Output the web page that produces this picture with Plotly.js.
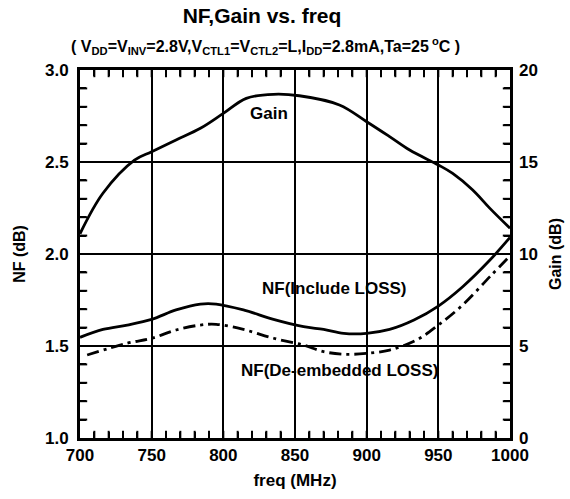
<!DOCTYPE html>
<html>
<head>
<meta charset="utf-8">
<script src="https://cdn.plot.ly/plotly-3.0.1.min.js"></script>
<style>html,body{margin:0;padding:0;background:#fff;}#chart{width:570px;height:499px;}</style>
</head>
<body>
<div id="chart"></div>
<script>
// Gain curve (right axis, dB)
const gainFreq = [700, 716, 738, 750, 767, 784, 800, 816, 835, 853, 881, 900, 916, 930, 950, 960, 974, 986, 1000];
const gainDb   = [11.1, 13.3, 15.1, 15.56, 16.2, 16.83, 17.64, 18.46, 18.68, 18.6, 18.1, 17.19, 16.38, 15.65, 14.84, 14.38, 13.48, 12.48, 11.4];

// NF (Include LOSS), left axis dB
const nfIncFreq = [700, 716, 733, 750, 767, 784, 795, 814, 835, 856, 870, 884, 900, 916, 933, 950, 967, 986, 1000];
const nfIncDb   = [1.547, 1.59, 1.614, 1.645, 1.696, 1.728, 1.728, 1.696, 1.645, 1.605, 1.59, 1.569, 1.569, 1.59, 1.641, 1.717, 1.822, 1.967, 2.09];

// NF (De-embedded LOSS), left axis dB
const nfDeFreq = [705, 733, 750, 767, 784, 795, 814, 835, 856, 870, 886, 900, 916, 935, 950, 967, 986, 1000];
const nfDeDb   = [1.451, 1.515, 1.542, 1.587, 1.614, 1.618, 1.59, 1.542, 1.505, 1.469, 1.455, 1.46, 1.478, 1.533, 1.614, 1.723, 1.877, 1.99];

// Axis ranges and tick spacing
const xRange = [700, 1000];   // major every 50 MHz, minor every 10 MHz
const nfRange = [1.0, 3.0];   // major every 0.5 dB, minor every 0.1 dB
const gainRange = [0, 20];    // major every 5 dB
const xMinorStep = 10;
const nfMinorStep = 0.1;

const FONT = '"Liberation Sans", Arial, sans-serif';
const M = {l: 80, r: 60, t: 70, b: 61};
const W = 570, H = 499;
const plotW = W - M.l - M.r, plotH = H - M.t - M.b;
const TL = 6; // minor tick length, px
const halfX = (TL / 2) / plotW * (xRange[1] - xRange[0]);
const halfY = (TL / 2) / plotH * (nfRange[1] - nfRange[0]);

// inside minor tick marks drawn as line-shaped markers just inside each edge
const vtX = [], vtY = [], htX = [], htY = [];
for (let i = 1; xRange[0] + i * xMinorStep < xRange[1] - 1e-9; i++) {
  const v = xRange[0] + i * xMinorStep;
  vtX.push(v, v);
  vtY.push(nfRange[0] + halfY, nfRange[1] - halfY);
}
const nSteps = Math.round((nfRange[1] - nfRange[0]) / nfMinorStep);
for (let i = 1; i < nSteps; i++) {
  const v = nfRange[0] + i * nfMinorStep;
  htX.push(xRange[0] + halfX, xRange[1] - halfX);
  htY.push(v, v);
}

const traces = [
  {x: vtX, y: vtY, mode: 'markers', marker: {symbol: 'line-ns', size: TL, color: '#000', line: {color: '#000', width: 2}},
   cliponaxis: false, showlegend: false, hoverinfo: 'skip'},
  {x: htX, y: htY, mode: 'markers', marker: {symbol: 'line-ew', size: TL, color: '#000', line: {color: '#000', width: 2}},
   cliponaxis: false, showlegend: false, hoverinfo: 'skip'},
  {x: gainFreq, y: gainDb, yaxis: 'y2', mode: 'lines', line: {color: '#000', width: 2.8, shape: 'spline', smoothing: 1}, showlegend: false, hoverinfo: 'skip'},
  {x: nfIncFreq, y: nfIncDb, mode: 'lines', line: {color: '#000', width: 2.8, shape: 'spline', smoothing: 1}, showlegend: false, hoverinfo: 'skip'},
  {x: nfDeFreq, y: nfDeDb, mode: 'lines', line: {color: '#000', width: 2.8, shape: 'spline', smoothing: 1, dash: '12px,5px,3px,5px'}, showlegend: false, hoverinfo: 'skip'}
];

const tickFont = {family: FONT, size: 17, color: '#000', weight: 'bold'};

const layout = {
  width: W, height: H,
  margin: M,
  paper_bgcolor: '#fff', plot_bgcolor: '#fff',
  font: {family: FONT, color: '#000', size: 17},
  title: {text: '<b>NF,Gain vs. freq</b>', font: {family: FONT, size: 21, color: '#000'},
          xref: 'container', x: 262/570, xanchor: 'center', yref: 'container', y: 1 - 16/499, yanchor: 'middle'},
  xaxis: {
    range: xRange, tickmode: 'linear', tick0: 700, dtick: 50,
    showgrid: true, gridcolor: '#000', gridwidth: 2, zeroline: false,
    showline: true, linecolor: '#000', linewidth: 3, mirror: 'allticks',
    ticks: 'inside', ticklen: 6, tickwidth: 2, tickcolor: '#000', ticklabelstandoff: 0,
    minor: {ticks: 'inside', dtick: xMinorStep, ticklen: 6, tickwidth: 2, tickcolor: '#000', showgrid: false},
    tickfont: tickFont,
    title: {text: '<b>freq (MHz)</b>', font: {family: FONT, size: 17, color: '#000'}, standoff: 10}
  },
  yaxis: {
    range: nfRange, tickmode: 'linear', tick0: 1.0, dtick: 0.5, tickformat: '.1f',
    showgrid: true, gridcolor: '#000', gridwidth: 2, zeroline: false,
    showline: true, linecolor: '#000', linewidth: 3, mirror: 'allticks',
    ticks: 'inside', ticklen: 6, tickwidth: 2, tickcolor: '#000', ticklabelstandoff: 5,
    minor: {ticks: 'inside', dtick: nfMinorStep, ticklen: 6, tickwidth: 2, tickcolor: '#000', showgrid: false},
    tickfont: tickFont,
    title: {text: '<b>NF (dB)</b>', font: {family: FONT, size: 16, color: '#000'}, standoff: 16}
  },
  yaxis2: {
    overlaying: 'y', side: 'right', range: gainRange, tickmode: 'linear', tick0: 0, dtick: 5,
    showgrid: false, zeroline: false, showline: false, ticks: '', ticklabelstandoff: 8,
    tickfont: tickFont,
    title: {text: '<b>Gain (dB)</b>', font: {family: FONT, size: 16, color: '#000'}, standoff: 12}
  },
  annotations: [
    {xref: 'paper', yref: 'paper', x: (265-80)/430, y: (438-46)/368, xanchor: 'center', yanchor: 'middle', showarrow: false,
     text: '<b>( V<sub>DD</sub>=V<sub>INV</sub>=2.8V,V<sub>CTL1</sub>=V<sub>CTL2</sub>=L,I<sub>DD</sub>=2.8mA,Ta=25<sup> o</sup>C )</b>',
     font: {family: FONT, size: 16, color: '#000'}},
    {xref: 'paper', yref: 'paper', x: (269-80)/430, y: (438-113)/368, xanchor: 'center', yanchor: 'middle', showarrow: false,
     text: '<b>Gain</b>', font: {family: FONT, size: 17, color: '#000'}},
    {xref: 'paper', yref: 'paper', x: (334.5-80)/430, y: (438-288)/368, xanchor: 'center', yanchor: 'middle', showarrow: false,
     text: '<b>NF(Include LOSS)</b>', font: {family: FONT, size: 17, color: '#000'}},
    {xref: 'paper', yref: 'paper', x: (339.5-80)/430, y: (438-370)/368, xanchor: 'center', yanchor: 'middle', showarrow: false,
     text: '<b>NF(De-embedded LOSS)</b>', font: {family: FONT, size: 17, color: '#000'}}
  ]
};

Plotly.newPlot('chart', traces, layout, {staticPlot: true, displayModeBar: false});
</script>
</body>
</html>
